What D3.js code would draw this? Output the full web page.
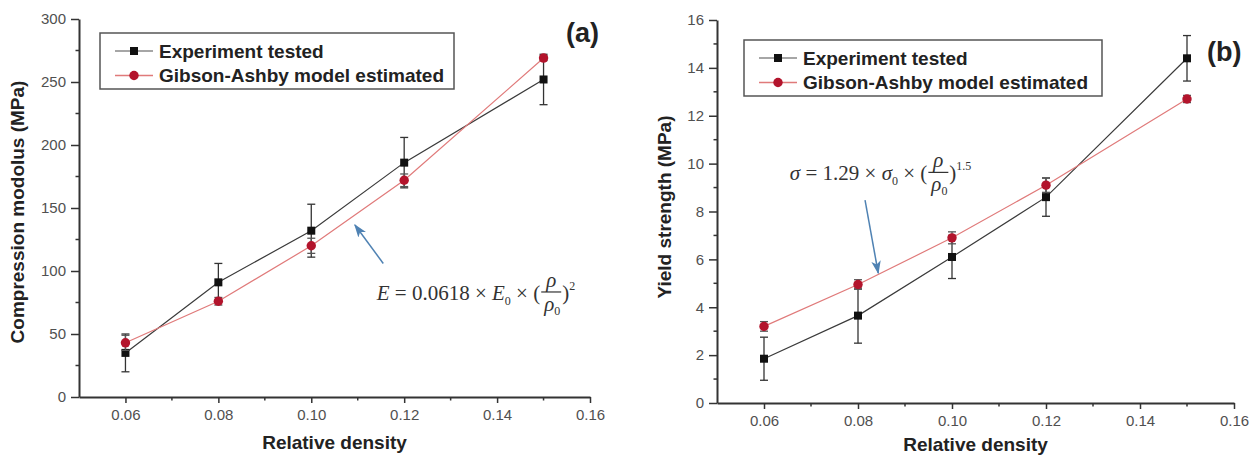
<!DOCTYPE html>
<html>
<head>
<meta charset="utf-8">
<script src="https://cdn.jsdelivr.net/npm/d3@7"></script>
<style>
  body { margin: 0; background: #fff; }
  svg { display: block; }
  .axis-title { font-family: "Liberation Sans", Arial, sans-serif; font-weight: bold; font-size: 19px; fill: #222; }
  .legend text { font-family: "Liberation Sans", Arial, sans-serif; font-weight: bold; font-size: 19px; fill: #222; }
  .panel-tag { font-family: "Liberation Sans", Arial, sans-serif; font-weight: bold; font-size: 27px; fill: #222; }
  .eq { font-family: "Liberation Serif", "Times New Roman", serif; font-size: 21px; fill: #333; }
</style>
</head>
<body>
<svg id="chart" width="1256" height="459"></svg>
<script>
// chart data
var densities = [0.06, 0.08, 0.10, 0.12, 0.15];
var modulusTested = [35, 91, 132, 186, 252];
var modulusTestedErr = [15, 15, 21, 20, 20];
var modulusModel = [43, 76, 120, 172, 269];
var modulusModelErr = [6, 3, 6, 5, 2];
var yieldTested = [1.85, 3.65, 6.1, 8.6, 14.4];
var yieldTestedErr = [0.9, 1.15, 0.9, 0.8, 0.95];
var yieldModel = [3.2, 4.95, 6.9, 9.1, 12.7];
var yieldModelErr = [0.2, 0.2, 0.25, 0.3, 0.15];
var xTicks = [0.06, 0.08, 0.10, 0.12, 0.14, 0.16];
var xMinor = [0.07, 0.09, 0.11, 0.13, 0.15];
var modulusTicks = [0, 50, 100, 150, 200, 250, 300];
var modulusMinor = [25, 75, 125, 175, 225, 275];
var yieldTicks = [0, 2, 4, 6, 8, 10, 12, 14, 16];
var yieldMinor = [1, 3, 5, 7, 9, 11, 13, 15];
var seriesNames = ["Experiment tested", "Gibson-Ashby model estimated"];

var svg = d3.select("#chart");

var blackLine = "#3a3a3a";
var redLine = "#e07a7a";
var redDot = "#b3142c";
var arrowBlue = "#4f82b3";

svg.append("defs").append("marker")
  .attr("id", "arrowhead")
  .attr("viewBox", "0 0 10 10")
  .attr("refX", 9).attr("refY", 5)
  .attr("markerWidth", 9).attr("markerHeight", 9)
  .attr("orient", "auto")
  .append("path")
  .attr("d", "M0,1.5 L10,5 L0,8.5 L2.5,5 Z")
  .attr("fill", arrowBlue);

function drawPanel(p) {
  var g = svg.append("g");
  var x = d3.scaleLinear().domain([0.05, 0.16]).range(p.xRange);
  var y = d3.scaleLinear().domain(p.yDomain).range(p.yRange);

  // axes
  var xAxis = g.append("g").attr("transform", `translate(0,${p.yRange[0]})`)
    .call(d3.axisBottom(x).tickValues(xTicks).tickFormat(d3.format(".2f")).tickSize(6).tickSizeOuter(0).tickPadding(6));
  xAxis.append("g").selectAll("line").data(xMinor).join("line")
    .attr("x1", d => x(d)).attr("x2", d => x(d)).attr("y1", 0).attr("y2", 3.5)
    .attr("stroke", "#333").attr("stroke-width", 1.5);

  var yAxis = g.append("g").attr("transform", `translate(${p.xRange[0]},0)`)
    .call(d3.axisLeft(y).tickValues(p.yTicks).tickSize(8).tickSizeOuter(0).tickPadding(5));
  yAxis.append("g").selectAll("line").data(p.yMinor).join("line")
    .attr("y1", d => y(d)).attr("y2", d => y(d)).attr("x1", 0).attr("x2", -3.5)
    .attr("stroke", "#333").attr("stroke-width", 1.5);

  g.selectAll(".domain").attr("stroke", "#333").attr("stroke-width", 2);
  g.selectAll(".tick line").attr("stroke", "#333").attr("stroke-width", 1.5);
  g.selectAll(".tick text")
    .style("font-family", "'Liberation Sans', Arial, sans-serif")
    .style("font-size", "15px")
    .style("fill", "#505050");

  // titles
  g.append("text").attr("class", "axis-title")
    .attr("x", (p.xRange[0] + p.xRange[1]) / 2).attr("y", p.xTitleY)
    .attr("text-anchor", "middle").text("Relative density");
  g.append("text").attr("class", "axis-title")
    .attr("transform", `translate(${p.yTitleX},${p.yTitleY}) rotate(-90)`)
    .attr("text-anchor", "middle").text(p.yTitle);

  var line = d3.line().x(d => x(d.x)).y(d => y(d.y));

  p.series.forEach(s => {
    var pts = densities.map((d, i) => ({ x: d, y: s.values[i], e: s.errs[i] }));
    g.append("path").datum(pts).attr("d", line)
      .attr("fill", "none").attr("stroke", s.lineColor).attr("stroke-width", 1.2);

    var eb = g.append("g").selectAll("g").data(pts).join("g").attr("stroke", s.errColor).attr("stroke-width", 1.3);
    eb.append("line").attr("x1", d => x(d.x)).attr("x2", d => x(d.x))
      .attr("y1", d => y(d.y - d.e)).attr("y2", d => y(d.y + d.e));
    eb.append("line").attr("x1", d => x(d.x) - 4).attr("x2", d => x(d.x) + 4)
      .attr("y1", d => y(d.y - d.e)).attr("y2", d => y(d.y - d.e));
    eb.append("line").attr("x1", d => x(d.x) - 4).attr("x2", d => x(d.x) + 4)
      .attr("y1", d => y(d.y + d.e)).attr("y2", d => y(d.y + d.e));

    if (s.shape === "square") {
      g.append("g").selectAll("rect").data(pts).join("rect")
        .attr("x", d => x(d.x) - 4).attr("y", d => y(d.y) - 4)
        .attr("width", 8).attr("height", 8).attr("fill", "#111");
    } else {
      g.append("g").selectAll("circle").data(pts).join("circle")
        .attr("cx", d => x(d.x)).attr("cy", d => y(d.y)).attr("r", 4.7)
        .attr("fill", redDot);
    }
  });

  // legend
  var lg = g.append("g").attr("class", "legend");
  lg.append("rect").attr("x", p.legend.x).attr("y", p.legend.y)
    .attr("width", p.legend.w).attr("height", p.legend.h)
    .attr("fill", "#fff").attr("stroke", "#555").attr("stroke-width", 1.5);
  p.series.forEach((s, i) => {
    var ry = p.legend.y + 18 + i * 24.5;
    var lx = p.legend.x + 15;
    lg.append("line").attr("x1", lx).attr("x2", lx + 38).attr("y1", ry).attr("y2", ry)
      .attr("stroke", i === 0 ? "#888" : redLine).attr("stroke-width", 1.5);
    if (s.shape === "square") {
      lg.append("rect").attr("x", lx + 15).attr("y", ry - 4).attr("width", 8).attr("height", 8).attr("fill", "#111");
    } else {
      lg.append("circle").attr("cx", lx + 19).attr("cy", ry).attr("r", 4.7).attr("fill", redDot);
    }
    lg.append("text").attr("x", lx + 44).attr("y", ry).attr("dy", "0.36em").text(seriesNames[i]);
  });

  g.append("text").attr("class", "panel-tag")
    .attr("x", p.tag.x).attr("y", p.tag.y).attr("dy", "0.35em").text(p.tag.text);

  // arrow
  g.append("line")
    .attr("x1", x(p.arrow[0][0])).attr("y1", y(p.arrow[0][1]))
    .attr("x2", x(p.arrow[1][0])).attr("y2", y(p.arrow[1][1]))
    .attr("stroke", arrowBlue).attr("stroke-width", 1.5)
    .attr("marker-end", "url(#arrowhead)");

  // equation
  drawEquation(g, x(p.eq.x), y(p.eq.y), p.eq.pre, p.eq.pow);
}

function drawEquation(g, ex, ey, pre, pow) {
  var t = g.append("text").attr("class", "eq").attr("x", ex).attr("y", ey);
  var shift = 0;
  pre.forEach(part => {
    var ts = t.append("tspan").text(part.t);
    if (part.i) ts.style("font-style", "italic");
    if (part.sub) { ts.attr("dy", 5).style("font-size", "12px"); shift = 5; }
    else if (shift) { ts.attr("dy", -shift); shift = 0; }
  });
  var w = t.node().getComputedTextLength();
  var fx = ex + w + 1;
  var fw = 20;
  g.append("text").attr("class", "eq").attr("x", fx + fw / 2).attr("y", ey - 13)
    .attr("text-anchor", "middle").style("font-style", "italic").text("ρ");
  g.append("line").attr("x1", fx).attr("x2", fx + fw).attr("y1", ey - 8).attr("y2", ey - 8)
    .attr("stroke", "#333").attr("stroke-width", 1.2);
  var den = g.append("text").attr("class", "eq").attr("x", fx + 3).attr("y", ey + 11);
  den.append("tspan").style("font-style", "italic").text("ρ");
  den.append("tspan").attr("dy", 4).style("font-size", "12px").text("0");
  var close = g.append("text").attr("class", "eq").attr("x", fx + fw + 1).attr("y", ey);
  close.append("tspan").text(")");
  close.append("tspan").attr("dy", -10).style("font-size", "12px").text(pow);
}

drawPanel({
  xRange: [79, 590], yDomain: [0, 300], yRange: [397, 19],
  yTicks: modulusTicks, yMinor: modulusMinor,
  yTitle: "Compression modolus (MPa)", yTitleX: 24, yTitleY: 212, xTitleY: 449,
  series: [
    { values: modulusTested, errs: modulusTestedErr, shape: "square", lineColor: blackLine, errColor: "#333" },
    { values: modulusModel, errs: modulusModelErr, shape: "circle", lineColor: redLine, errColor: "#555" }
  ],
  legend: { x: 100, y: 33, w: 354, h: 56 },
  tag: { x: 566, y: 33, text: "(a)" },
  arrow: [[0.1155, 106], [0.1094, 136.5]],
  eq: { x: 0.1141, y: 77, pow: "2",
    pre: [{ t: "E", i: true }, { t: " = 0.0618 × " }, { t: "E", i: true }, { t: "0", sub: true }, { t: " × (" }] }
});

drawPanel({
  xRange: [717, 1234], yDomain: [0, 16], yRange: [403, 20],
  yTicks: yieldTicks, yMinor: yieldMinor,
  yTitle: "Yield strength (MPa)", yTitleX: 671, yTitleY: 207, xTitleY: 451,
  series: [
    { values: yieldTested, errs: yieldTestedErr, shape: "square", lineColor: blackLine, errColor: "#333" },
    { values: yieldModel, errs: yieldModelErr, shape: "circle", lineColor: redLine, errColor: "#555" }
  ],
  legend: { x: 744, y: 40, w: 358, h: 56 },
  tag: { x: 1207, y: 52, text: "(b)" },
  arrow: [[0.0815, 8.48], [0.0843, 5.43]],
  eq: { x: 0.0655, y: 9.3, pow: "1.5",
    pre: [{ t: "σ", i: true }, { t: " = 1.29 × " }, { t: "σ", i: true }, { t: "0", sub: true }, { t: " × (" }] }
});
</script>
</body>
</html>
